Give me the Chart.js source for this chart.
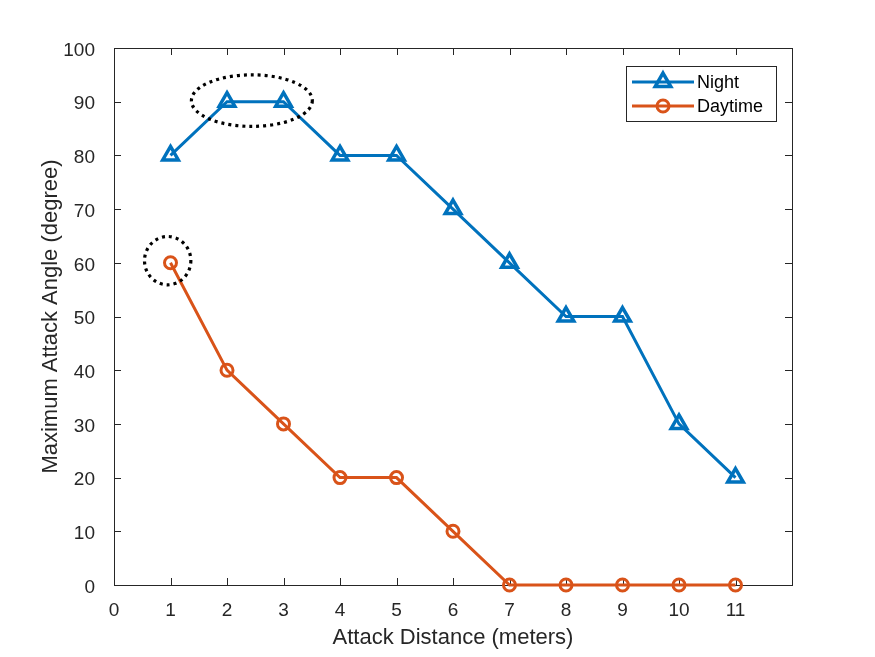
<!doctype html>
<html lang="en">
<head>
<meta charset="utf-8">
<title>Maximum Attack Angle vs Attack Distance</title>
<script src="https://cdn.jsdelivr.net/npm/chart.js"></script>
<style>
  html, body { margin: 0; padding: 0; background: #fff; }
  #wrap { width: 875px; height: 657px; }
</style>
</head>
<body>
<div id="wrap"><canvas id="myChart" width="875" height="657"></canvas></div>
<script>
// data
const distances = [1, 2, 3, 4, 5, 6, 7, 8, 9, 10, 11];
const nightAngles = [80, 90, 90, 80, 80, 70, 60, 50, 50, 30, 20];
const dayAngles = [60, 40, 30, 20, 20, 10, 0, 0, 0, 0, 0];
const xTickValues = [0, 1, 2, 3, 4, 5, 6, 7, 8, 9, 10, 11];
const yTickValues = [0, 10, 20, 30, 40, 50, 60, 70, 80, 90, 100];

// dotted highlight ellipses, in data units (centre x, centre y, half width, half height)
const markX = [2.44, 0.95];
const markY = [90.2, 60.4];
const markRx = [1.07, 0.41];
const markRy = [4.8, 4.5];

const blue = '#0072BD';
const orange = '#D95319';
const axisColor = '#262626';
const fontFamily = '"Liberation Sans", Arial, Helvetica, sans-serif';

function toPoints(xs, ys) {
  return xs.map((x, i) => ({ x: x, y: ys[i] }));
}

function drawMarker(ctx, style, x, y, r, color, width) {
  ctx.save();
  ctx.strokeStyle = color;
  ctx.lineWidth = width;
  ctx.beginPath();
  if (style === 'triangle') {
    let a = 0;
    for (let k = 0; k < 3; k++) {
      const px = x + Math.sin(a) * r, py = y - Math.cos(a) * r;
      if (k === 0) ctx.moveTo(px, py); else ctx.lineTo(px, py);
      a += Math.PI * 2 / 3;
    }
    ctx.closePath();
  } else {
    ctx.arc(x, y, r, 0, Math.PI * 2);
  }
  ctx.stroke();
  ctx.restore();
}

// box, inward ticks on all sides, dotted ellipses and boxed legend
const matlabLook = {
  id: 'matlabLook',
  beforeDatasetsDraw(chart) {
    const ctx = chart.ctx;
    const { left, right, top, bottom } = chart.chartArea;
    const xs = chart.scales.x, ys = chart.scales.y;
    const tl = 7;
    ctx.save();
    ctx.strokeStyle = axisColor;
    ctx.lineWidth = 1;
    ctx.strokeRect(left + 0.5, top + 0.5, right - left, bottom - top);
    ctx.beginPath();
    xTickValues.forEach(v => {
      const px = Math.round(xs.getPixelForValue(v)) + 0.5;
      ctx.moveTo(px, bottom); ctx.lineTo(px, bottom - tl);
      ctx.moveTo(px, top); ctx.lineTo(px, top + tl);
    });
    yTickValues.forEach(v => {
      const py = Math.round(ys.getPixelForValue(v)) + 0.5;
      ctx.moveTo(left, py); ctx.lineTo(left + tl, py);
      ctx.moveTo(right, py); ctx.lineTo(right - tl, py);
    });
    ctx.stroke();
    ctx.restore();
  },
  afterDatasetsDraw(chart) {
    const ctx = chart.ctx;
    const xs = chart.scales.x, ys = chart.scales.y;
    ctx.save();
    ctx.strokeStyle = '#000';
    ctx.lineWidth = 3.2;
    ctx.setLineDash([3, 4]);
    markX.forEach((mx, i) => {
      const cx = xs.getPixelForValue(mx), cy = ys.getPixelForValue(markY[i]);
      const rx = Math.abs(xs.getPixelForValue(mx + markRx[i]) - cx);
      const ry = Math.abs(ys.getPixelForValue(markY[i] + markRy[i]) - cy);
      ctx.beginPath();
      ctx.ellipse(cx, cy, rx, ry, 0, 0, Math.PI * 2);
      ctx.stroke();
    });
    ctx.restore();
  },
  afterDraw(chart) {
    const ctx = chart.ctx;
    const { right, top } = chart.chartArea;
    const w = 150, h = 55;
    const lx = right - 16 - w, ly = top + 18;
    ctx.save();
    ctx.fillStyle = '#fff';
    ctx.fillRect(lx, ly, w, h);
    ctx.strokeStyle = axisColor;
    ctx.lineWidth = 1;
    ctx.strokeRect(lx + 0.5, ly + 0.5, w, h);
    chart.data.datasets.forEach((ds, i) => {
      const ry = ly + 16 + i * 24;
      ctx.strokeStyle = ds.borderColor;
      ctx.lineWidth = ds.borderWidth;
      ctx.beginPath();
      ctx.moveTo(lx + 6, ry); ctx.lineTo(lx + 68, ry);
      ctx.stroke();
      drawMarker(ctx, ds.pointStyle, lx + 37, ry, ds.pointRadius, ds.borderColor, ds.pointBorderWidth);
      ctx.fillStyle = '#000';
      ctx.font = '18px ' + fontFamily;
      ctx.textBaseline = 'middle';
      ctx.textAlign = 'left';
      ctx.fillText(ds.label, lx + 71, ry + 1);
    });
    ctx.restore();
  }
};

const ctx = document.getElementById('myChart').getContext('2d');
const myChart = new Chart(ctx, {
  type: 'line',
  data: {
    datasets: [{
      label: 'Night',
      data: toPoints(distances, nightAngles),
      borderColor: blue,
      backgroundColor: 'rgba(0,0,0,0)',
      borderWidth: 3,
      pointStyle: 'triangle',
      pointRadius: 9,
      pointBorderWidth: 3.5,
      pointBackgroundColor: 'rgba(0,0,0,0)',
      pointBorderColor: blue,
      tension: 0,
      clip: false
    }, {
      label: 'Daytime',
      data: toPoints(distances, dayAngles),
      borderColor: orange,
      backgroundColor: 'rgba(0,0,0,0)',
      borderWidth: 3,
      pointStyle: 'circle',
      pointRadius: 6,
      pointBorderWidth: 3,
      pointBackgroundColor: 'rgba(0,0,0,0)',
      pointBorderColor: orange,
      tension: 0,
      clip: false
    }]
  },
  options: {
    responsive: false,
    animation: false,
    devicePixelRatio: 1,
    layout: { padding: { left: 0, top: 48, right: 83, bottom: 0 } },
    plugins: {
      legend: { display: false },
      tooltip: { enabled: false }
    },
    scales: {
      x: {
        type: 'linear',
        min: 0,
        max: 12,
        afterBuildTicks: s => { s.ticks = xTickValues.map(v => ({ value: v })); },
        afterFit: s => { s.height = 72; },
        grid: { display: false },
        border: { display: false },
        ticks: {
          color: '#262626',
          font: { family: fontFamily, size: 19 },
          padding: 6,
          maxRotation: 0,
          autoSkip: false
        },
        title: {
          display: true,
          text: 'Attack Distance (meters)',
          color: '#262626',
          font: { family: fontFamily, size: 22 },
          padding: 6
        }
      },
      y: {
        min: 0,
        max: 100,
        afterBuildTicks: s => { s.ticks = yTickValues.map(v => ({ value: v })); },
        afterFit: s => { s.width = 114; },
        grid: { display: false },
        border: { display: false },
        ticks: {
          color: '#262626',
          font: { family: fontFamily, size: 19 },
          padding: 11,
          labelOffset: 2.5,
          autoSkip: false
        },
        title: {
          display: true,
          text: 'Maximum Attack Angle (degree)',
          color: '#262626',
          font: { family: fontFamily, size: 22 },
          padding: 38
        }
      }
    }
  },
  plugins: [matlabLook]
});
</script>
</body>
</html>
